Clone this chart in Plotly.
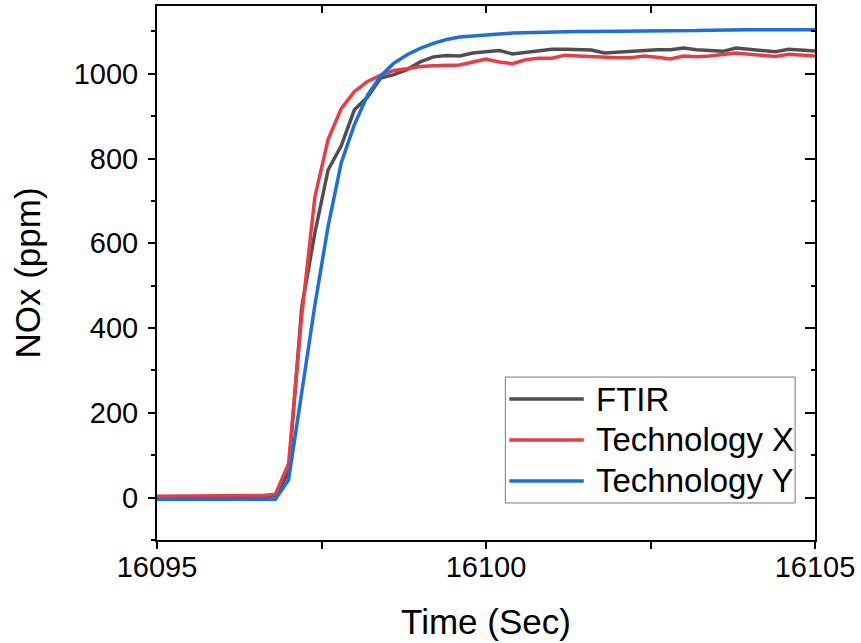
import plotly.graph_objects as go

time_s = [16095.0, 16095.4, 16095.8, 16096.2, 16096.6, 16096.8, 16097.0, 16097.2, 16097.4, 16097.6,
          16097.8, 16098.0, 16098.2, 16098.4, 16098.6, 16098.8, 16099.0, 16099.2, 16099.4, 16099.6,
          16099.8, 16100.0, 16100.2, 16100.4, 16100.6, 16100.8, 16101.0, 16101.2, 16101.4, 16101.6,
          16101.8, 16102.0, 16102.2, 16102.4, 16102.6, 16102.8, 16103.0, 16103.2, 16103.4, 16103.6,
          16103.8, 16104.0, 16104.2, 16104.4, 16104.6, 16104.8, 16105.0]

ftir = [0, 0, 0, 0, 1, 5, 60, 450, 625, 773,
        830, 915, 945, 990, 998, 1010, 1028, 1040, 1043, 1042,
        1049, 1052, 1055, 1047, 1050, 1054, 1058, 1058, 1058, 1056,
        1049, 1051, 1054, 1057, 1057, 1057, 1061, 1057, 1055, 1053,
        1061, 1058, 1055, 1052, 1058, 1056, 1054]

tech_x = [3, 3, 3, 3, 5, 8, 80, 430, 710, 845,
          918, 958, 982, 997, 1008, 1012, 1017, 1019, 1020, 1021,
          1028, 1035, 1028, 1024, 1033, 1037, 1037, 1044, 1042, 1040,
          1039, 1038, 1038, 1042, 1039, 1035, 1042, 1040, 1042, 1045,
          1049, 1046, 1043, 1041, 1046, 1045, 1042]

tech_y = [-4, -4, -4, -4, -4, -4, 42, 245, 455, 640,
          790, 880, 950, 995, 1025, 1045, 1060, 1072, 1081, 1087,
          1090, 1092, 1094, 1096, 1097, 1099, 1100, 1100, 1100, 1100,
          1100, 1100, 1100, 1100, 1100, 1101, 1101, 1102, 1103, 1104,
          1104, 1104, 1104, 1104, 1104, 1104, 1104]

series_names = ["FTIR", "Technology X", "Technology Y"]
series_values = [ftir, tech_x, tech_y]
series_colors = ["#4f4f4f", "#ea3c42", "#1d6fdd"]

x_range = [16095, 16105]
y_range = [-100, 1160]

FONT = "Liberation Sans, Arial, sans-serif"

fig = go.Figure()
for name, vals, col in zip(series_names, series_values, series_colors):
    fig.add_trace(go.Scatter(x=time_s, y=vals, mode="lines", name=name,
                             line=dict(color=col, width=3.5), showlegend=False))

# helper trace to register mirrored axes
fig.add_trace(go.Scatter(x=[None], y=[None], xaxis="x2", yaxis="y2",
                         showlegend=False, hoverinfo="skip"))

fig.update_layout(
    width=861, height=643,
    margin=dict(l=157, r=41, t=6, b=103),
    paper_bgcolor="white", plot_bgcolor="white",
    font=dict(family=FONT, color="black"),
    xaxis=dict(range=x_range, dtick=5, tick0=16095, ticks="outside", ticklen=7, tickwidth=1.5,
               tickcolor="black", showline=True, linecolor="black", linewidth=2,
               showgrid=False, zeroline=False, tickformat="d",
               tickfont=dict(size=29), ticklabelstandoff=-7,
               minor=dict(dtick=2.5, ticklen=7, tickwidth=1.5, tickcolor="black", ticks="outside"),
               title=dict(text="Time (Sec)", font=dict(size=35), standoff=28)),
    yaxis=dict(range=y_range, dtick=200, tick0=0, ticks="outside", ticklen=7, tickwidth=1.5,
               tickcolor="black", showline=True, linecolor="black", linewidth=2,
               showgrid=False, zeroline=False,
               tickfont=dict(size=29), ticklabelstandoff=4,
               minor=dict(dtick=100, ticklen=4, tickwidth=1.5, tickcolor="black", ticks="outside"),
               title=dict(text="NOx (ppm)", font=dict(size=35), standoff=22)),
    xaxis2=dict(range=x_range, overlaying="x", side="top", dtick=2.5, tick0=16095,
                ticks="inside", ticklen=7, tickwidth=1.5, tickcolor="black",
                showline=True, linecolor="black", linewidth=2, showgrid=False,
                zeroline=False, showticklabels=False),
    yaxis2=dict(range=y_range, overlaying="y", side="right", dtick=200, tick0=0,
                ticks="inside", ticklen=10, tickwidth=1.5, tickcolor="black",
                showline=True, linecolor="black", linewidth=2, showgrid=False,
                zeroline=False, showticklabels=False,
                minor=dict(dtick=100, ticklen=4, tickwidth=1.5, tickcolor="black", ticks="inside")),
)

# legend drawn in plot-area coordinates
box = dict(x0=0.5294, x1=0.9698, y0=0.0693, y1=0.3052)
fig.add_shape(type="rect", xref="paper", yref="paper", **box,
              line=dict(color="#7a7a7a", width=1), fillcolor="white", layer="above")
row_y = [0.2640, 0.1873, 0.1105]
for name, col, yy in zip(series_names, series_colors, row_y):
    fig.add_shape(type="line", xref="paper", yref="paper", x0=0.5354, x1=0.6486, y0=yy, y1=yy,
                  line=dict(color=col, width=3.5), layer="above")
    fig.add_annotation(xref="paper", yref="paper", x=0.6637, y=yy, text=name, showarrow=False,
                       xanchor="left", yanchor="middle", font=dict(size=33, family=FONT, color="black"))

fig.write_html("out.html")
